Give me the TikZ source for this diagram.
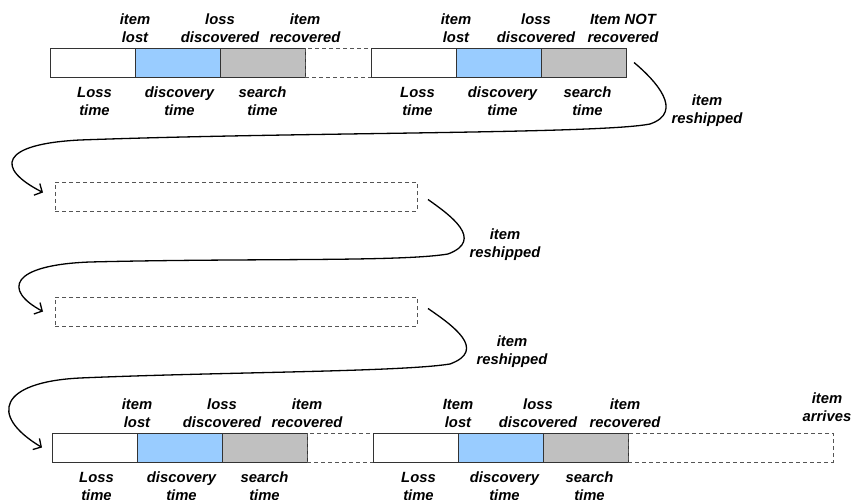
\documentclass[tikz,border=0pt]{standalone}
\usepackage{fontspec}
\setmainfont{Liberation Sans}
\usepackage{tikz}
\usetikzlibrary{positioning}
\usetikzlibrary{calc,arrows.meta}

\definecolor{DiscBlue}{HTML}{99CCFF}
\definecolor{SearchGrey}{HTML}{C0C0C0}
\definecolor{BarEdge}{HTML}{333333}
\definecolor{DashEdge}{HTML}{555555}

\tikzset{
	seg/.style={draw=BarEdge, line width=0.8pt, minimum width=85pt, minimum height=29pt,
		inner sep=0pt, outer sep=0pt, anchor=west},
	gap/.style={draw=DashEdge, line width=0.8pt, dash pattern=on 4pt off 3pt,
		minimum height=29pt, inner sep=0pt, outer sep=0pt, anchor=west},
	lbl/.style={font=\fontsize{14.8}{18}\selectfont\bfseries\itshape, align=center, inner sep=0pt},
	ship/.style={line width=1.3pt, -{Straight Barb[length=6pt, width=13pt]}},
}

\begin{document}
\begin{tikzpicture}[x=1pt, y=1pt]
	
	% ------------------------------------------------
	% Ensure the dimensions of graphic are appropriate
	\fill[white] (0,0) rectangle (852,-500);
	\useasboundingbox (0,0) rectangle (852,-500);
	
	% ------------------------------------------------
	% Relevant coordinates
	\coordinate (RowA) at (50,-62.5);
	
	\path (RowA)	+(5,-134)	coordinate (RowB);
	\path (RowB)	+(0,-115)	coordinate (RowC);
	\path (RowA)	+(2,-385)	coordinate (RowD);
	
	% ----------------
	% First shipment
	\node[seg] (LossA1) at (RowA) {};
	\node[seg, fill=DiscBlue] (DiscA1) at (LossA1.east) {};
	\node[seg, fill=SearchGrey] (SearchA1) at (DiscA1.east) {};
	\node[gap, minimum width=66pt] (RestA1) at (SearchA1.east) {};
	\node[seg] (LossA2) at (RestA1.east) {};
	\node[seg, fill=DiscBlue] (DiscA2) at (LossA2.east) {};
	\node[seg, fill=SearchGrey] (SearchA2) at (DiscA2.east) {};
	
	\node[lbl, above=5pt of LossA1.north east] (LostA1) {item\\lost};
	\node[lbl, above=5pt of DiscA1.north east] (FoundA1) {loss\\discovered};
	\node[lbl, above=5pt of SearchA1.north east] (BackA1) {item\\recovered};
	\node[lbl, above=5pt of LossA2.north east] (LostA2) {item\\lost};
	\node[lbl, above=5pt of DiscA2.north east, xshift=-5pt] (FoundA2) {loss\\discovered};
	\node[lbl, above=5pt of SearchA2.north east, xshift=-3pt] (BackA2) {Item NOT\\recovered};
	
	\node[lbl, below=10pt of LossA1, xshift=2pt] (LossTxtA1) {Loss\\time};
	\node[lbl, below=10pt of DiscA1, xshift=2pt] (DiscTxtA1) {discovery\\time};
	\node[lbl, below=10pt of SearchA1] (SearchTxtA1) {search\\time};
	\node[lbl, below=10pt of LossA2, xshift=4pt] (LossTxtA2) {Loss\\time};
	\node[lbl, below=10pt of DiscA2, xshift=4pt] (DiscTxtA2) {discovery\\time};
	\node[lbl, below=10pt of SearchA2, xshift=4pt] (SearchTxtA2) {search\\time};
	
	% ----------------
	% Reshipments in between
	\node[gap, minimum width=362pt] (BoxB) at (RowB) {};
	\node[gap, minimum width=362pt] (BoxC) at (RowC) {};
	
	% ----------------
	% Last shipment
	\node[seg] (LossD1) at (RowD) {};
	\node[seg, fill=DiscBlue] (DiscD1) at (LossD1.east) {};
	\node[seg, fill=SearchGrey] (SearchD1) at (DiscD1.east) {};
	\node[gap, minimum width=66pt] (RestD1) at (SearchD1.east) {};
	\node[seg] (LossD2) at (RestD1.east) {};
	\node[seg, fill=DiscBlue] (DiscD2) at (LossD2.east) {};
	\node[seg, fill=SearchGrey] (SearchD2) at (DiscD2.east) {};
	\node[gap, minimum width=205pt] (RestD2) at (SearchD2.east) {};
	
	\node[lbl, above=5pt of LossD1.north east] (LostD1) {item\\lost};
	\node[lbl, above=5pt of DiscD1.north east] (FoundD1) {loss\\discovered};
	\node[lbl, above=5pt of SearchD1.north east] (BackD1) {item\\recovered};
	\node[lbl, above=5pt of LossD2.north east] (LostD2) {Item\\lost};
	\node[lbl, above=5pt of DiscD2.north east, xshift=-5pt] (FoundD2) {loss\\discovered};
	\node[lbl, above=5pt of SearchD2.north east, xshift=-3pt] (BackD2) {item\\recovered};
	\node[lbl, above=11pt of RestD2.north east, xshift=-6pt] (ArriveD2) {item\\arrives};
	
	\node[lbl, below=10pt of LossD1, xshift=2pt] (LossTxtD1) {Loss\\time};
	\node[lbl, below=10pt of DiscD1, xshift=2pt] (DiscTxtD1) {discovery\\time};
	\node[lbl, below=10pt of SearchD1] (SearchTxtD1) {search\\time};
	\node[lbl, below=10pt of LossD2, xshift=3pt] (LossTxtD2) {Loss\\time};
	\node[lbl, below=10pt of DiscD2, xshift=4pt] (DiscTxtD2) {discovery\\time};
	\node[lbl, below=10pt of SearchD2, xshift=4pt] (SearchTxtD2) {search\\time};
	
	%%%%%%%%%%%%%%%%%%%%%%%%%%%%%%%%%%%%%%%%%
	%Reshipping arrows
	\path (SearchA2.east)	+(8,0)		coordinate (ShipA);
	\path (BoxB.west)		+(-12,4)	coordinate (ShipAEnd);
	\path (BoxB.east)		+(11,-3)	coordinate (ShipB);
	\path (BoxC.west)		+(-12,0)	coordinate (ShipBEnd);
	\path (BoxC.east)		+(11,3)		coordinate (ShipC);
	\path (LossD1.west)		+(-10,0)	coordinate (ShipCEnd);
	
	\draw[ship] (ShipA) .. controls (655,-80) and (685,-112) .. (650,-124)
		.. controls (600,-134) and (300,-132) .. (80,-140)
		.. controls (0,-144) and (-5,-168) .. (ShipAEnd);
	\draw[ship] (ShipB) .. controls (450,-215) and (485,-240) .. (448,-254)
		.. controls (400,-262) and (250,-258) .. (90,-262)
		.. controls (10,-265) and (3,-290) .. (ShipBEnd);
	\draw[ship] (ShipC) .. controls (452,-325) and (488,-350) .. (450,-364)
		.. controls (400,-372) and (220,-372) .. (80,-378)
		.. controls (0,-382) and (-12,-415) .. (ShipCEnd);
	
	\path (ShipA)	+(73,-48)	node[lbl] (ShipTxtA) {item\\reshipped};
	\path (ShipB)	+(77,-45)	node[lbl] (ShipTxtB) {item\\reshipped};
	\path (ShipC)	+(84,-43)	node[lbl] (ShipTxtC) {item\\reshipped};
	
\end{tikzpicture}
\end{document}
